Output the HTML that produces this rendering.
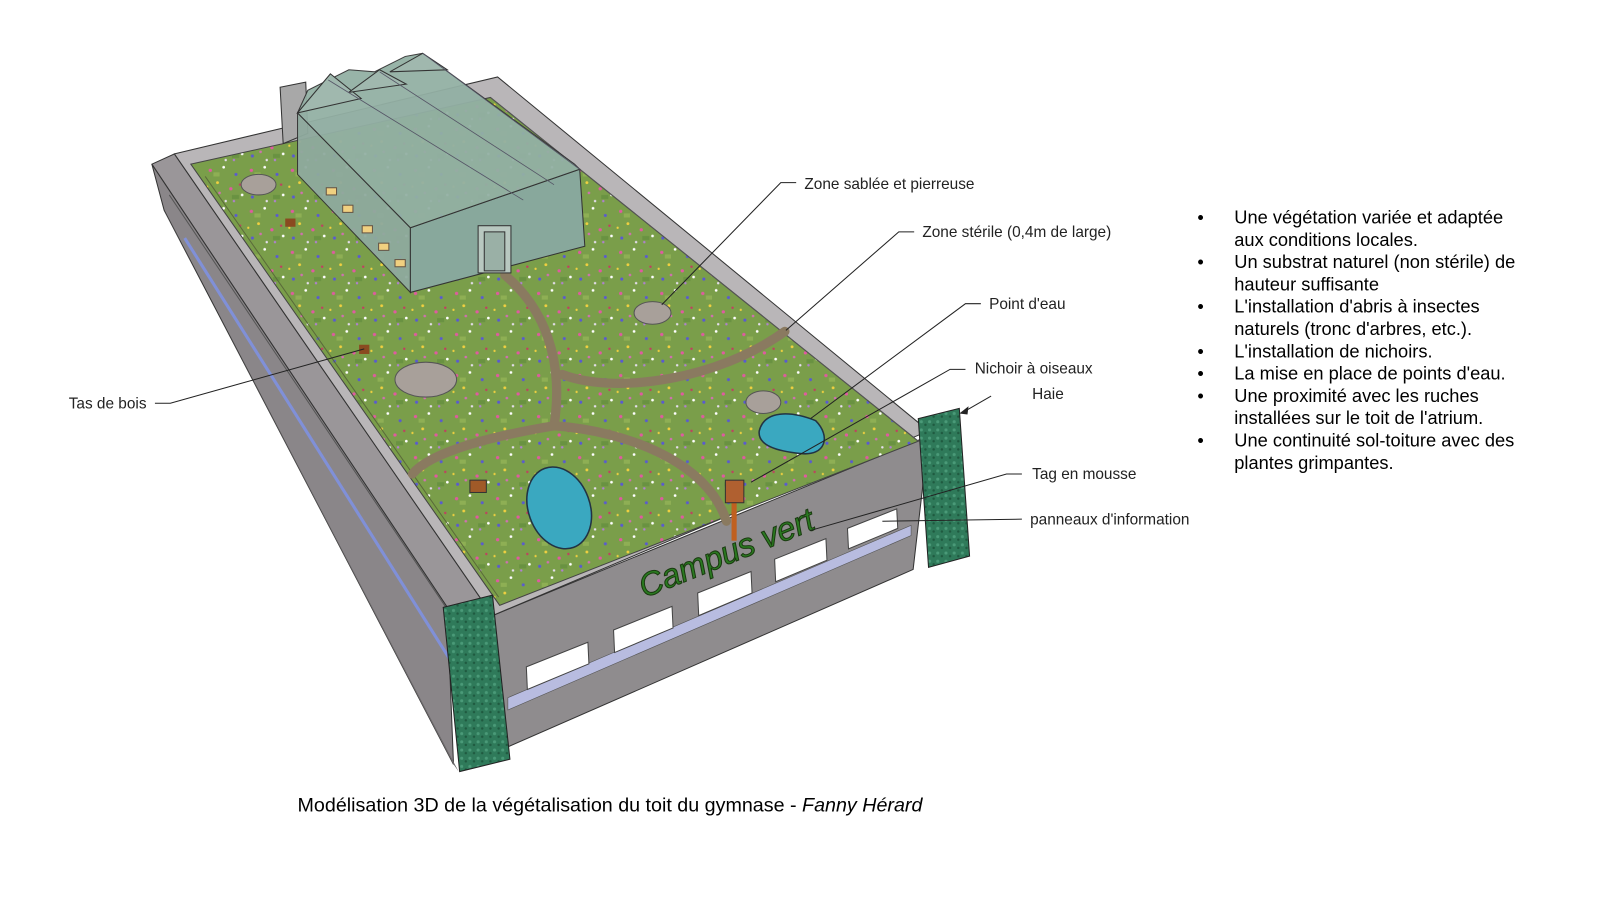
<!DOCTYPE html>
<html><head><meta charset="utf-8"><style>
html,body{margin:0;padding:0;background:#fff;width:1600px;height:900px;overflow:hidden}
.t{font-family:"Liberation Sans",sans-serif}
</style></head><body>
<svg width="1600" height="900" viewBox="0 0 1600 900" xmlns="http://www.w3.org/2000/svg">
<defs>
<pattern id="fl" width="40" height="40" patternUnits="userSpaceOnUse">
<rect width="40" height="40" fill="#7a9e4a"/>
<circle cx="5" cy="6" r="1.6" fill="#e05aa0"/><circle cx="18" cy="3" r="1.3" fill="#fff"/>
<circle cx="30" cy="10" r="1.5" fill="#5a5ad0"/><circle cx="12" cy="18" r="1.4" fill="#f0d040"/>
<circle cx="25" cy="24" r="1.6" fill="#e05aa0"/><circle cx="36" cy="30" r="1.3" fill="#fff"/>
<circle cx="6" cy="32" r="1.5" fill="#5a5ad0"/><circle cx="20" cy="36" r="1.2" fill="#e8e0f0"/>
<circle cx="34" cy="20" r="1.2" fill="#c04060"/><circle cx="2" cy="22" r="1.1" fill="#f0d040"/>
<circle cx="14" cy="28" r="1.3" fill="#d070b0"/><circle cx="28" cy="36" r="1.2" fill="#b080d0"/>
<rect x="8" y="8" width="6" height="4" fill="#9bbb5a" opacity=".6"/><rect x="26" y="30" width="7" height="4" fill="#5e8a3a" opacity=".6"/>
</pattern>
<pattern id="gr" width="8" height="8" patternUnits="userSpaceOnUse"><rect width="8" height="8" fill="#2f7a5a"/><circle cx="2" cy="3" r="1.5" fill="#4a9a78"/><circle cx="6" cy="6" r="1.2" fill="#1f5a40"/></pattern>
</defs>
<g transform="scale(1.026)">
<polygon points="148,160 170,150 480,600 436,592" fill="#9a9699" stroke="#333" stroke-width="1"/>
<polygon points="148,160 436,592 442,745 160,205" fill="#8a8689" stroke="#333" stroke-width="1"/>
<polygon points="160,205 442,745 447,752 165,215" fill="#6b686a"/>
<line x1="180" y1="232" x2="440" y2="645" stroke="#8090d8" stroke-width="3"/>
<line x1="165" y1="190" x2="440" y2="600" stroke="#555" stroke-width="1"/>
<polygon points="480,600 905,425 890,555 495,728" fill="#8f8c8e" stroke="#333" stroke-width="1"/>
<polygon points="495,680 888,512 888,522 495,692" fill="#b8bce0" stroke="#555" stroke-width=".6"/>
<g fill="#fff" stroke="#444" stroke-width="1">
<polygon points="513,650 573,626 574,647 514,672"/>
<polygon points="598,614 655,591 656,612 599,636"/>
<polygon points="680,578 732,557 733,578 681,600"/>
<polygon points="755,545 805,525 806,546 756,567"/>
<polygon points="826,515 874,496 875,515 827,535"/>
</g>
<polygon points="170,150 485,75 905,420 480,600" fill="#b9b6b8" stroke="#333" stroke-width="1"/>
<polygon points="186,160 478,95 895,430 487,590" fill="url(#fl)" stroke="#444" stroke-width="1"/>
<line x1="200" y1="172" x2="486" y2="582" stroke="#5a6a3a" stroke-width="1"/>
<line x1="478" y1="95" x2="895" y2="430" stroke="#555" stroke-width="1"/>
<g fill="none" stroke="#8a7a60" stroke-width="9" stroke-linecap="round">
<path d="M492,268 C530,300 550,350 540,415"/>
<path d="M540,415 C480,425 420,440 402,462"/>
<path d="M540,415 C610,420 690,450 708,508"/>
<path d="M548,365 C600,385 700,370 765,323"/>
</g>
<g fill="#a8a09a" stroke="#555">
<ellipse cx="252" cy="180" rx="17" ry="10"/>
<ellipse cx="636" cy="305" rx="18" ry="11"/>
<ellipse cx="415" cy="370" rx="30" ry="17"/>
<ellipse cx="744" cy="392" rx="17" ry="11"/>
</g>
<g fill="#3aa8c0" stroke="#234" stroke-width="1.5">
<ellipse cx="545" cy="495" rx="30" ry="41" transform="rotate(-20 545 495)"/>
<path d="M740,420 C745,400 770,400 795,410 C810,425 805,445 780,442 C760,440 738,435 740,420Z"/>
</g>
<polygon points="273,85 298,80 300,130 276,140" fill="#a8a8a8" stroke="#333"/>
<polygon points="290,110 400,222 400,285 290,170" fill="#8faa9e" stroke="#333" opacity=".95"/>
<polygon points="400,222 565,165 570,240 400,285" fill="#88a89c" stroke="#333"/>
<polygon points="290,110 300,88 340,68 365,70 395,55 412,52 560,160 565,165 400,222" fill="#93b0a4" stroke="#333" opacity=".95"/>
<polygon points="290,110 322,72 352,96" fill="#a0b8ae" stroke="#333"/>
<polygon points="340,90 370,68 396,82" fill="#a0b8ae" stroke="#333"/>
<polygon points="380,70 412,52 436,68" fill="#a0b8ae" stroke="#333"/>
<line x1="320" y1="78" x2="510" y2="195" stroke="#556" stroke-width=".8"/>
<line x1="370" y1="70" x2="540" y2="180" stroke="#556" stroke-width=".8"/>
<line x1="412" y1="52" x2="565" y2="165" stroke="#556" stroke-width=".8"/>
<rect x="466" y="220" width="32" height="46" fill="#b8c8c0" stroke="#333"/>
<rect x="472" y="226" width="20" height="38" fill="#9ab0a6" stroke="#333"/>
<g fill="#f0d080" stroke="#654">
<rect x="318" y="183" width="10" height="7"/><rect x="334" y="200" width="10" height="7"/>
<rect x="353" y="220" width="10" height="7"/><rect x="369" y="237" width="10" height="7"/><rect x="385" y="253" width="10" height="7"/>
</g>
<rect x="278" y="213" width="10" height="8" fill="#8a4a20"/>
<rect x="350" y="336" width="10" height="9" fill="#8a4a20"/>
<rect x="458" y="468" width="16" height="12" fill="#a05a28" stroke="#333"/>
<rect x="713" y="475" width="5" height="52" fill="#c06020"/>
<rect x="707" y="468" width="18" height="22" fill="#b06030" stroke="#333"/>
<text x="628" y="583" transform="rotate(-22 628 583)" class="t" font-size="32" font-style="italic" fill="#2a7a20" stroke="#1a3a10" stroke-width="1">Campus vert</text>
<polygon points="432,592 480,580 497,740 448,752" fill="url(#gr)" stroke="#222"/>
<polygon points="895,408 935,398 945,542 905,553" fill="url(#gr)" stroke="#222"/>
<g stroke="#222" stroke-width="1" fill="none">
<polyline points="776,178 761,178 645,297"/>
<polyline points="891,226 876,226 766,322"/>
<polyline points="956,296 941,296 790,408"/>
<polyline points="941,360 926,360 732,470"/>
<line x1="966" y1="386" x2="940" y2="401"/>
<polyline points="996,462 981,462 790,517"/>
<line x1="996" y1="506" x2="860" y2="508"/>
<polyline points="151,393 166,393 355,340"/>
</g>
<polygon points="935,403 944,396 943,404" fill="#222"/>
<g class="t" font-size="15" fill="#222">
<text x="784" y="184">Zone sablée et pierreuse</text>
<text x="899" y="231">Zone stérile (0,4m de large)</text>
<text x="964" y="301">Point d'eau</text>
<text x="950" y="364">Nichoir à oiseaux</text>
<text x="1006" y="389">Haie</text>
<text x="1006" y="467">Tag en mousse</text>
<text x="1004" y="511">panneaux d'information</text>
<text x="67" y="398">Tas de bois</text>
</g>
<g class="t" font-size="17.8" fill="#000">
<text x="1167" y="218">•</text><text x="1203" y="218">Une végétation variée et adaptée</text>
<text x="1203" y="239.7">aux conditions locales.</text>
<text x="1167" y="261.4">•</text><text x="1203" y="261.4">Un substrat naturel (non stérile) de</text>
<text x="1203" y="283.1">hauteur suffisante</text>
<text x="1167" y="304.8">•</text><text x="1203" y="304.8">L'installation d'abris à insectes</text>
<text x="1203" y="326.5">naturels (tronc d'arbres, etc.).</text>
<text x="1167" y="348.2">•</text><text x="1203" y="348.2">L'installation de nichoirs.</text>
<text x="1167" y="369.9">•</text><text x="1203" y="369.9">La mise en place de points d'eau.</text>
<text x="1167" y="391.6">•</text><text x="1203" y="391.6">Une proximité avec les ruches</text>
<text x="1203" y="413.3">installées sur le toit de l'atrium.</text>
<text x="1167" y="435">•</text><text x="1203" y="435">Une continuité sol-toiture avec des</text>
<text x="1203" y="457">plantes grimpantes.</text>
</g>
<text x="290" y="791" class="t" font-size="19.2" fill="#000">Modélisation 3D de la végétalisation du toit du gymnase - <tspan font-style="italic">Fanny Hérard</tspan></text>
</g>
</svg>
</body></html>
